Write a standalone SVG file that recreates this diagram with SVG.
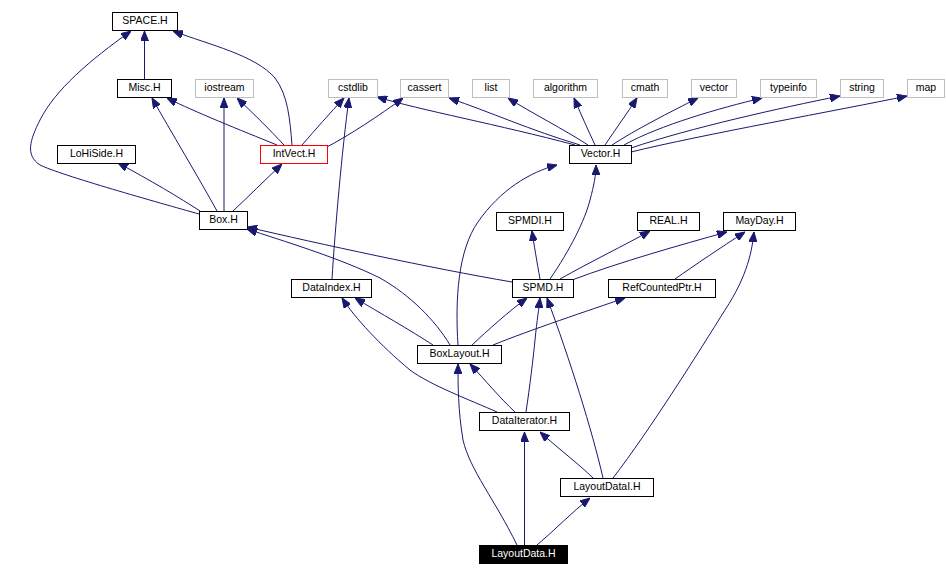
<svg xmlns="http://www.w3.org/2000/svg" width="946" height="576" viewBox="0 0 946 576">
<style>
.n rect{fill:#fff;stroke:#000;stroke-width:1}
.g rect{stroke:#bfbfbf}
.r rect{stroke:#ff0000}
.k rect{fill:#000}
text{font-family:"Liberation Sans",Arial,sans-serif;font-size:10.5px;text-anchor:middle;fill:#000}
.k text{fill:#fff}
#edges path{fill:none;stroke:#191970;stroke-width:1;marker-end:url(#a)}
</style>
<defs>
<marker id="a" viewBox="0 0 10 8" refX="10" refY="4" markerWidth="10" markerHeight="8" orient="auto" markerUnits="userSpaceOnUse">
<path d="M0,0 L10,4 L0,8 z" fill="#191970" stroke="#191970"/>
</marker>
</defs>
<rect width="946" height="576" fill="#fff"/>
<g id="edges">
<path d="M144.5,79 L144.5,31"/>
<path d="M199,214 C160,203 60,175 40,165 C25,155 30,140 40,120 C55,90 90,60 131,31"/>
<path d="M292,145 C290,120 288,95 275,78 C255,55 210,45 173,31"/>
<path d="M217,211 C200,180 170,130 152,98"/>
<path d="M277,145 C240,130 195,112 167,98"/>
<path d="M224,211 L224,98"/>
<path d="M284,145 C270,130 255,115 237,98"/>
<path d="M302,145 C315,130 330,113 344,98"/>
<path d="M325,148 C350,135 380,115 403,98"/>
<path d="M575,145 C500,125 420,110 377,97"/>
<path d="M580,145 C530,130 490,112 449,98"/>
<path d="M588,145 C565,130 530,112 508,98"/>
<path d="M595,145 C588,130 580,112 574,98"/>
<path d="M605,145 C615,130 628,112 637,98"/>
<path d="M612,145 C635,130 670,112 698,98"/>
<path d="M624,145 C660,125 720,108 762,98"/>
<path d="M631,148 C690,128 780,108 840,96"/>
<path d="M631,152 C700,135 840,110 907,96"/>
<path d="M200,211 C180,198 150,180 118,163"/>
<path d="M233,211 C248,197 265,180 282,164"/>
<path d="M512,282 C430,268 320,244 247,227"/>
<path d="M450,345 C435,320 410,295 380,278 C340,258 280,240 247,229"/>
<path d="M458,345 C455,300 458,250 478,222 C500,190 530,172 557,165"/>
<path d="M550,279 C570,250 585,220 590,200 C594,185 596,175 596,165"/>
<path d="M540,279 C537,262 534,245 532,231"/>
<path d="M560,279 C590,262 625,245 650,231"/>
<path d="M572,280 C620,262 680,245 727,232"/>
<path d="M675,279 C695,265 720,248 745,232"/>
<path d="M613,478 C650,430 700,350 725,310 C748,275 752,250 754,232"/>
<path d="M433,345 C410,330 380,313 355,298"/>
<path d="M472,345 C488,330 508,312 527,298"/>
<path d="M493,345 C530,330 590,310 625,298"/>
<path d="M497,412 C470,400 430,385 410,370 C380,345 355,318 342,298"/>
<path d="M515,412 C500,398 485,380 470,364"/>
<path d="M526,412 C530,385 533,360 535,340 C537,320 539,308 540,298"/>
<path d="M332,279 C335,230 342,150 349,98"/>
<path d="M603,478 C592,430 570,360 547,298"/>
<path d="M593,478 C580,465 560,450 540,432"/>
<path d="M517,545 C495,500 470,470 463,440 C458,410 458,385 458,364"/>
<path d="M524.5,545 L524.5,432"/>
<path d="M537,545 C555,530 572,512 590,498"/>
</g>
<g id="n_space" class="n"><rect x="112.5" y="12.5" width="65" height="18"/><text x="145" y="24">SPACE.H</text></g>
<g id="n_misc" class="n"><rect x="117.5" y="79.5" width="54" height="18"/><text x="144.5" y="91">Misc.H</text></g>
<g id="n_iostream" class="n g"><rect x="195.5" y="79.5" width="58" height="18"/><text x="224.5" y="91">iostream</text></g>
<g id="n_cstdlib" class="n g"><rect x="328.5" y="79.5" width="49" height="18"/><text x="353" y="91">cstdlib</text></g>
<g id="n_cassert" class="n g"><rect x="400.5" y="79.5" width="48" height="18"/><text x="424.5" y="91">cassert</text></g>
<g id="n_list" class="n g"><rect x="472.5" y="79.5" width="37" height="18"/><text x="491" y="91">list</text></g>
<g id="n_algorithm" class="n g"><rect x="533.5" y="79.5" width="64" height="18"/><text x="565.5" y="91">algorithm</text></g>
<g id="n_cmath" class="n g"><rect x="622.5" y="79.5" width="45" height="18"/><text x="645" y="91">cmath</text></g>
<g id="n_vector" class="n g"><rect x="691.5" y="79.5" width="45" height="18"/><text x="714" y="91">vector</text></g>
<g id="n_typeinfo" class="n g"><rect x="760.5" y="79.5" width="56" height="18"/><text x="788.5" y="91">typeinfo</text></g>
<g id="n_string" class="n g"><rect x="840.5" y="79.5" width="43" height="18"/><text x="862" y="91">string</text></g>
<g id="n_map" class="n g"><rect x="907.5" y="79.5" width="37" height="18"/><text x="926" y="91">map</text></g>
<g id="n_lohiside" class="n"><rect x="57.5" y="145.5" width="78" height="18"/><text x="96.5" y="157">LoHiSide.H</text></g>
<g id="n_intvect" class="n r"><rect x="260.5" y="145.5" width="67" height="18"/><text x="294" y="157">IntVect.H</text></g>
<g id="n_vectorh" class="n"><rect x="569.5" y="145.5" width="62" height="18"/><text x="600.5" y="157">Vector.H</text></g>
<g id="n_box" class="n"><rect x="199.5" y="211.5" width="48" height="18"/><text x="223.5" y="223">Box.H</text></g>
<g id="n_spmdi" class="n"><rect x="496.5" y="212.5" width="67" height="18"/><text x="530" y="224">SPMDI.H</text></g>
<g id="n_real" class="n"><rect x="637.5" y="212.5" width="62" height="18"/><text x="668.5" y="224">REAL.H</text></g>
<g id="n_mayday" class="n"><rect x="723.5" y="212.5" width="72" height="18"/><text x="759.5" y="224">MayDay.H</text></g>
<g id="n_dataindex" class="n"><rect x="291.5" y="279.5" width="80" height="18"/><text x="331.5" y="291">DataIndex.H</text></g>
<g id="n_spmd" class="n"><rect x="512.5" y="279.5" width="61" height="18"/><text x="543" y="291">SPMD.H</text></g>
<g id="n_refcountedptr" class="n"><rect x="608.5" y="279.5" width="107" height="18"/><text x="662" y="291">RefCountedPtr.H</text></g>
<g id="n_boxlayout" class="n"><rect x="417.5" y="345.5" width="84" height="18"/><text x="459.5" y="357">BoxLayout.H</text></g>
<g id="n_dataiterator" class="n"><rect x="479.5" y="412.5" width="90" height="18"/><text x="524.5" y="424">DataIterator.H</text></g>
<g id="n_layoutdatai" class="n"><rect x="560.5" y="478.5" width="93" height="18"/><text x="607" y="490">LayoutDataI.H</text></g>
<g id="n_layoutdata" class="n k"><rect x="479.5" y="545.5" width="88" height="18"/><text x="523.5" y="557">LayoutData.H</text></g>
</svg>
